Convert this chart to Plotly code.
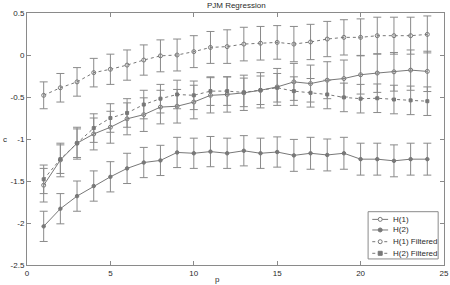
import plotly.graph_objects as go

p = list(range(1, 25))

h1 = [-1.55, -1.25, -1.05, -0.94, -0.86, -0.76, -0.71, -0.62, -0.61, -0.56, -0.48, -0.47,
      -0.45, -0.42, -0.38, -0.32, -0.34, -0.30, -0.28, -0.235, -0.215, -0.20, -0.18, -0.195]
h1_err = [0.20, 0.20, 0.19, 0.19, 0.19, 0.19, 0.20, 0.20, 0.20, 0.20, 0.21, 0.21,
          0.21, 0.21, 0.22, 0.22, 0.22, 0.22, 0.22, 0.23, 0.23, 0.23, 0.24, 0.24]

h2 = [-2.04, -1.83, -1.68, -1.56, -1.45, -1.35, -1.28, -1.255, -1.16, -1.17, -1.15, -1.17,
      -1.14, -1.17, -1.155, -1.195, -1.17, -1.19, -1.17, -1.24, -1.24, -1.26, -1.24, -1.24]
h2_err = [0.18, 0.18, 0.18, 0.18, 0.18, 0.18, 0.18, 0.18, 0.18, 0.18, 0.18, 0.18,
          0.18, 0.18, 0.18, 0.19, 0.19, 0.19, 0.19, 0.19, 0.19, 0.19, 0.19, 0.19]

h1f = [-0.48, -0.39, -0.32, -0.21, -0.17, -0.12, -0.06, -0.01, 0.0, 0.04, 0.09, 0.10,
       0.13, 0.14, 0.15, 0.13, 0.155, 0.19, 0.21, 0.21, 0.23, 0.23, 0.23, 0.245]
h1f_err = [0.16, 0.17, 0.17, 0.17, 0.18, 0.18, 0.18, 0.19, 0.19, 0.19, 0.19, 0.20,
           0.20, 0.20, 0.20, 0.21, 0.21, 0.21, 0.21, 0.22, 0.22, 0.22, 0.22, 0.22]

h2f = [-1.48, -1.24, -1.05, -0.87, -0.75, -0.69, -0.59, -0.52, -0.47, -0.48, -0.43, -0.43,
       -0.445, -0.42, -0.39, -0.43, -0.45, -0.47, -0.505, -0.52, -0.515, -0.53, -0.54, -0.55]
h2f_err = [0.17, 0.17, 0.17, 0.17, 0.17, 0.17, 0.17, 0.17, 0.17, 0.17, 0.17, 0.17,
           0.17, 0.17, 0.17, 0.17, 0.17, 0.17, 0.17, 0.17, 0.17, 0.17, 0.17, 0.17]

names = ["H(1)", "H(2)", "H(1) Filtered", "H(2) Filtered"]
xticks = [0, 5, 10, 15, 20, 25]
yticks = [0.5, 0, -0.5, -1, -1.5, -2, -2.5]
ytext = ["0.5", "0", "-0.5", "-1", "-1.5", "-2", "-2.5"]

FONT = "Liberation Sans, Arial, sans-serif"
TXT = "#2a2a2a"
LINE = "#787878"
ERR = "#8a8a8a"
AX = "#8a8a8a"

styles = [
    ("solid", "circle-open", 4),
    ("solid", "circle", 3.5),
    ("3px,3px", "circle-open", 4),
    ("3px,3px", "square", 3),
]
data = [(h1, h1_err), (h2, h2_err), (h1f, h1f_err), (h2f, h2f_err)]

fig = go.Figure()
for (y, e), n, (dash, sym, ms) in zip(data, names, styles):
    fig.add_trace(go.Scatter(
        x=p, y=y, name=n, mode="lines+markers", showlegend=False, hoverinfo="skip",
        line=dict(color=LINE, width=1, dash=dash),
        marker=dict(symbol=sym, size=ms, color=LINE, line=dict(color=LINE, width=1)),
        error_y=dict(type="data", array=e, visible=True, color=ERR, thickness=1, width=4),
    ))

axis_common = dict(
    showgrid=False, zeroline=False, showline=True, mirror="ticks", automargin=False,
    linecolor=AX, linewidth=1, ticks="inside", ticklen=4,
    tickcolor=AX, tickfont=dict(family=FONT, size=8, color=TXT),
)
fig.update_xaxes(range=[0, 25], tickvals=xticks, **axis_common)
fig.update_yaxes(range=[-2.5, 0.5], tickvals=yticks, ticktext=ytext, **axis_common)

# custom compact legend (paper coordinates)
shapes = [dict(type="rect", xref="paper", yref="paper", x0=0.818, x1=0.986, y0=0.024, y1=0.2115,
               line=dict(color=AX, width=1), fillcolor="white", layer="above")]
annotations = []
rows = [0.181, 0.139, 0.0925, 0.0464]
for n, (dash, sym, ms), yr in zip(names, styles, rows):
    shapes.append(dict(type="line", xref="paper", yref="paper", x0=0.828, x1=0.866, y0=yr, y1=yr,
                       line=dict(color=LINE, width=1, dash=dash), layer="above"))
    fill = "white" if sym == "circle-open" else LINE
    shapes.append(dict(type="circle" if sym != "square" else "rect",
                       xref="paper", yref="paper", xsizemode="pixel", ysizemode="pixel",
                       xanchor=0.847, yanchor=yr, x0=-2, x1=2, y0=-2, y1=2,
                       line=dict(color=LINE, width=1), fillcolor=fill, layer="above"))
    annotations.append(dict(text=n, xref="paper", yref="paper", x=0.874, y=yr,
                            xanchor="left", yanchor="middle", showarrow=False,
                            font=dict(family=FONT, size=8, color=TXT)))

annotations.append(dict(text="p", xref="paper", yref="paper", x=0.458, y=-0.056,
                        xanchor="center", yanchor="middle", showarrow=False,
                        font=dict(family=FONT, size=8, color=TXT)))
annotations.append(dict(text="c", xref="paper", yref="paper", x=-0.053, y=0.5,
                        xanchor="center", yanchor="middle", showarrow=False,
                        font=dict(family=FONT, size=8, color=TXT)))

fig.update_layout(
    width=450, height=285,
    margin=dict(l=27, r=6, t=13, b=20),
    paper_bgcolor="white", plot_bgcolor="white",
    title=dict(text="PJM Regression", x=0.525, xanchor="center", y=0.982, yanchor="middle",
               font=dict(family=FONT, size=8, color=TXT)),
    showlegend=False,
    hovermode=False,
    shapes=shapes,
    annotations=annotations,
    font=dict(family=FONT, size=8),
)

fig.write_html("out.html", config={"displayModeBar": False},
               post_script="document.body.style.margin='0';document.body.style.padding='0';")
